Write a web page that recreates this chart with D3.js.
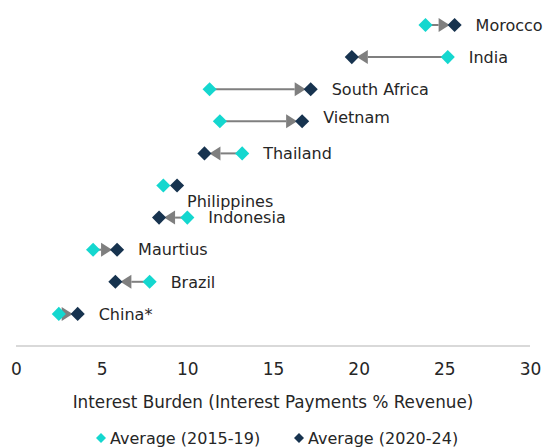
<!DOCTYPE html>
<meta charset="utf-8">
<style>
body { margin: 0; background: #fff; }
text { font-family: "DejaVu Sans", Verdana, sans-serif; fill: #262626; }
.axis .domain { stroke: #d9d9d9; stroke-width: 2px; }
.axis text { font-size: 17px; }
.arrow { stroke: #7f7f7f; stroke-width: 2px; }
.head { fill: #7f7f7f; }
</style>
<body>
<script src="https://cdn.jsdelivr.net/npm/d3@7"></script>
<script>

// country rows, top to bottom
var countries = ["Morocco", "India", "South Africa", "Vietnam", "Thailand",
                 "Philippines", "Indonesia", "Maurtius", "Brazil", "China*"];
// interest payments % revenue
var avg1519 = [23.9, 25.2, 11.3, 11.9, 13.2, 8.6, 10.0, 4.5, 7.8, 2.5];
var avg2024 = [25.6, 19.6, 17.2, 16.7, 11.0, 9.4, 8.35, 5.9, 5.8, 3.6];
var xTicks = [0, 5, 10, 15, 20, 25, 30];
var seriesNames = ["Average (2015-19)", "Average (2020-24)"];

var cyan = "#14d7cf", navy = "#17334f";

var width = 546, height = 448;

var svg = d3.select("body").append("svg")
    .attr("width", width)
    .attr("height", height);

var x = d3.scaleLinear().domain([0, 30]).range([16, 530]);
// row position: China at 1 ... Morocco at 10, axis at 0
var y = d3.scaleLinear().domain([0, 10]).range([346, 25]);

var data = countries.map(function(c, i) {
  return { name: c, a: avg1519[i], b: avg2024[i], row: countries.length - i };
});

// axis
svg.append("g")
    .attr("class", "axis")
    .attr("transform", "translate(0," + y(0) + ")")
    .call(d3.axisBottom(x).tickValues(xTicks).tickSize(0).tickPadding(17))
    .call(function(g) { g.select(".domain").attr("d", "M" + x(0) + ",0H" + x(30)); });

svg.append("text")
    .attr("x", 273)
    .attr("y", 408)
    .attr("text-anchor", "middle")
    .style("font-size", "16.8px")
    .text("Interest Burden (Interest Payments % Revenue)");

var rows = svg.selectAll(".row")
    .data(data)
  .enter().append("g")
    .attr("class", "row")
    .attr("transform", function(d) { return "translate(0," + y(d.row) + ")"; });

// connector + arrowhead (hidden when points nearly overlap)
rows.each(function(d) {
  var g = d3.select(this);
  var xa = x(d.a), xb = x(d.b);
  var dir = xb > xa ? 1 : -1;
  if (Math.abs(xb - xa) < 15) return;
  var tip = xb - dir * 5, base = tip - dir * 11;
  g.append("line")
      .attr("class", "arrow")
      .attr("x1", xa).attr("x2", base)
      .attr("y1", 0).attr("y2", 0);
  g.append("path")
      .attr("class", "head")
      .attr("d", "M" + tip + ",0L" + base + ",-7L" + base + ",7Z");
});

var diamond = d3.symbol().type(d3.symbolSquare).size(100);

rows.append("path")
    .attr("d", diamond)
    .attr("fill", cyan)
    .attr("transform", function(d) { return "translate(" + x(d.a) + ",0) rotate(45)"; });

rows.append("path")
    .attr("d", diamond)
    .attr("fill", navy)
    .attr("transform", function(d) { return "translate(" + x(d.b) + ",0) rotate(45)"; });

// small label nudges where the original labels sit off the row
var nudge = { "Philippines": [-11, 16], "Vietnam": [0, -4] };

rows.append("text")
    .attr("x", function(d) {
      var n = nudge[d.name] || [0, 0];
      return x(Math.max(d.a, d.b)) + 21 + n[0];
    })
    .attr("y", function(d) { return (nudge[d.name] || [0, 0])[1]; })
    .attr("dy", "0.36em")
    .style("font-size", "16px")
    .text(function(d) { return d.name; });

// legend
var legend = svg.append("g").attr("transform", "translate(0,438)");
var legX = [101, 299];
var legSym = d3.symbol().type(d3.symbolSquare).size(50);
seriesNames.forEach(function(s, i) {
  legend.append("path")
      .attr("d", legSym)
      .attr("fill", i === 0 ? cyan : navy)
      .attr("transform", "translate(" + legX[i] + ",0) rotate(45)");
  legend.append("text")
      .attr("x", legX[i] + 9)
      .attr("dy", "0.36em")
      .style("font-size", "16px")
      .text(s);
});

</script>
</body>
